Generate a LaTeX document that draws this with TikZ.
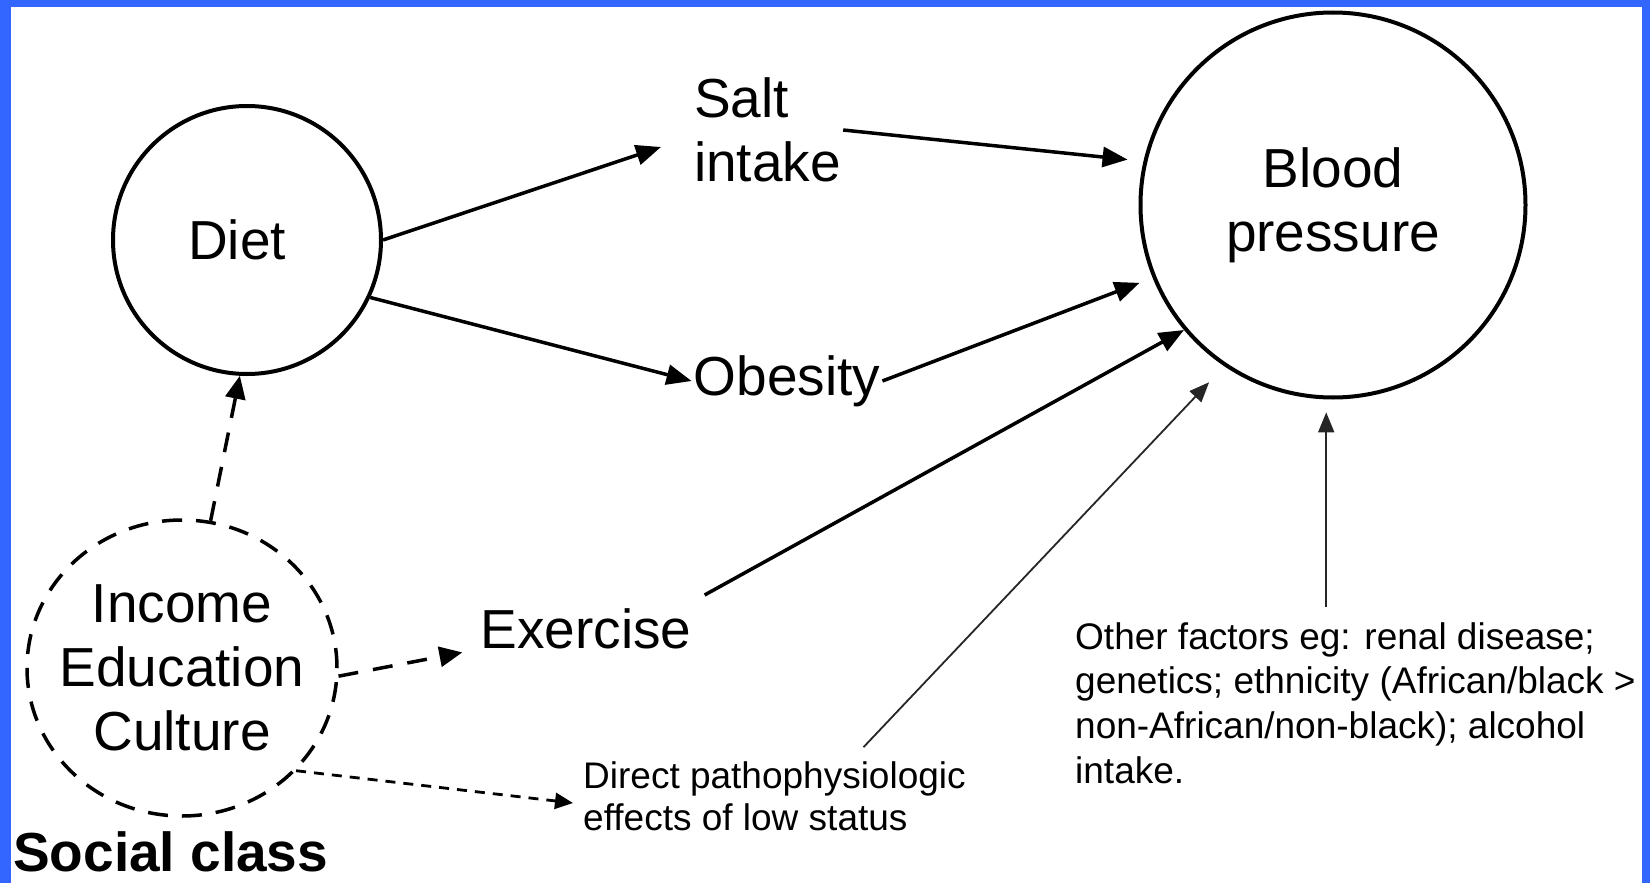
\documentclass[tikz,border=0pt]{standalone}
\usepackage{fontspec}
\setmainfont{Liberation Sans}
\usetikzlibrary{arrows.meta,calc,shapes.geometric}
\definecolor{frameblue}{RGB}{51,102,255}

\begin{document}
\begin{tikzpicture}[x=1pt,y=-1pt,
    bigfont/.style={font=\fontsize{55}{64}\selectfont},
    factor/.style={draw,circle,line width=4pt,inner sep=0pt,bigfont,align=center},
    lbl/.style={inner sep=2pt,bigfont,align=left},
    note/.style={inner sep=2pt,align=left},
    arr/.style={line width=3.5pt,-{Triangle[length=25pt,width=20pt]}},
    thinarr/.style={line width=1.8pt,black!85,-{Triangle[length=20pt,width=16pt]}},
    dasharr/.style={line width=3.5pt,dash pattern=on 20pt off 15pt,-{Triangle[length=23pt,width=20pt]}},
    dotarr/.style={line width=2.8pt,dash pattern=on 10pt off 8pt,-{Triangle[length=18pt,width=16pt]}},
  ]
    % frame
    \fill[frameblue] (0,0) rectangle (1650,883);
    \fill[white] (11,7) rectangle (1642,883);
    \useasboundingbox (0,0) rectangle (1650,883);

    % draw circles
    \node[factor,minimum size=268pt] (diet) at (247,240) {Diet\hspace*{20pt}};
    \node[factor,minimum size=385pt] (bp) at (1333,205) {Blood\\pressure};
    \node[draw,ellipse,line width=3.5pt,dash pattern=on 20pt off 14pt,
      minimum width=310pt,minimum height=296pt,inner sep=0pt] (ses) at (182,668) {};
    \node[bigfont,align=center] (sestext) at (ses) {Income\\Education\\Culture};

    % draw nodes
    \node[lbl,anchor=west] (salt) at (692,130) {Salt\\intake};
    \node[lbl] (obesity) at (787,381) {Obesity};
    \node[lbl] (exercise) at (586,629) {Exercise};
    \node[note,anchor=west,font=\fontsize{37}{42}\selectfont] (direct) at (581,796)
      {Direct pathophysiologic\\effects of low status};
    \node[note,anchor=west,font=\fontsize{37}{44.7}\selectfont] (other) at (1073,703)
      {Other factors eg: renal disease;\\genetics; ethnicity (African/black >\\non-African/non-black); alcohol\\intake.};
    \node[anchor=base west,inner sep=0pt,font=\fontsize{55}{64}\selectfont\bfseries] (social) at (13,871) {Social class};

    % draw arrows
    \draw[arr] (diet.east) -- ($(salt.west)+(-31,17)$);
    \draw[arr] (diet.-25) -- (obesity.west);
    \draw[arr,shorten >=16pt] (salt.east) -- (bp.167);
    \draw[arr,shorten >=14pt] (obesity.east) -- (bp.202);
    \draw[arr] ($(exercise.east)+(11,-34)$) -- (bp.220);
    \draw[thinarr,shorten >=22pt] ($(direct.north)+(89,-12)$) -- (bp.236);
    \draw[thinarr,shorten >=13pt] ($(other.north -| bp.268)+(0,-13)$) -- (bp.268);

    % draw dashed arrows
    \draw[dasharr] (ses.79) -- (diet.-93);
    \draw[dasharr] (ses.-3) -- ($(exercise.south west)+(-16,1)$);
    \draw[dotarr] (ses.-42) -- ($(direct.west)+(-8,7)$);
\end{tikzpicture}
\end{document}
